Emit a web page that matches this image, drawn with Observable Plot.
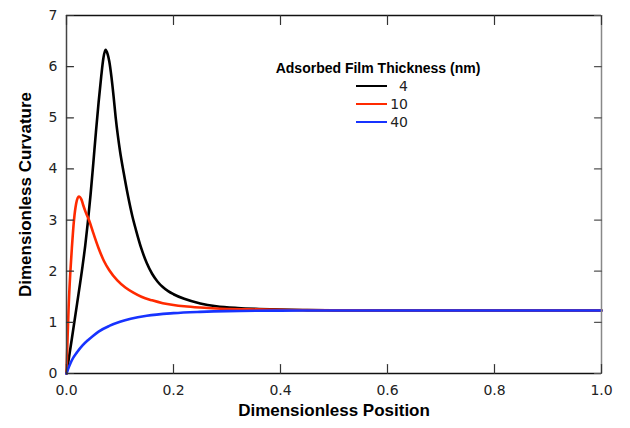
<!DOCTYPE html>
<html><head><meta charset="utf-8">
<script src="https://cdn.jsdelivr.net/npm/d3@7"></script>
<script src="https://cdn.jsdelivr.net/npm/@observablehq/plot@0.6"></script>
<style>
html,body{margin:0;padding:0;background:#fff;}
#chart{width:630px;height:428px;}
</style></head><body><div id="chart"></div>
<script>
const seriesNames = ["4", "10", "40"];
const seriesColors = ["#000000", "#ff2a00", "#1733ff"];

const x4 = [0, 0.01, 0.02, 0.03, 0.035, 0.04, 0.045, 0.05, 0.055, 0.06, 0.065, 0.069, 0.073, 0.077, 0.08, 0.084, 0.088, 0.092, 0.096, 0.1, 0.107, 0.115, 0.123, 0.13, 0.14, 0.15, 0.16, 0.17, 0.18, 0.19, 0.2, 0.22, 0.25, 0.28, 0.32, 0.36, 0.4, 0.45, 0.5, 0.6, 0.8, 1.0];
const y4 = [0, 0.68, 1.38, 2.1, 2.5, 2.97, 3.5, 4.1, 4.72, 5.3, 5.82, 6.17, 6.33, 6.24, 6.1, 5.8, 5.42, 5.0, 4.65, 4.35, 3.92, 3.47, 3.08, 2.8, 2.44, 2.16, 1.95, 1.8, 1.69, 1.61, 1.55, 1.46, 1.37, 1.315, 1.28, 1.262, 1.25, 1.24, 1.235, 1.233, 1.233, 1.233];

const x10 = [0, 0.002, 0.004, 0.007, 0.01, 0.014, 0.018, 0.023, 0.028, 0.031, 0.036, 0.042, 0.05, 0.06, 0.07, 0.08, 0.095, 0.11, 0.125, 0.14, 0.16, 0.18, 0.2, 0.22, 0.25, 0.28, 0.34, 0.4, 0.5, 0.6, 0.8, 1.0];
const y10 = [0, 0.7, 1.3, 1.95, 2.45, 3.0, 3.32, 3.46, 3.4, 3.3, 3.15, 3.0, 2.75, 2.45, 2.2, 2.02, 1.82, 1.68, 1.58, 1.5, 1.43, 1.375, 1.34, 1.315, 1.29, 1.272, 1.255, 1.245, 1.235, 1.233, 1.233, 1.233];

const x40 = [0, 0.005, 0.01, 0.02, 0.03, 0.04, 0.05, 0.06, 0.08, 0.1, 0.12, 0.15, 0.2, 0.25, 0.3, 0.4, 0.5, 0.6, 0.8, 1.0];
const y40 = [0, 0.14, 0.26, 0.42, 0.55, 0.65, 0.74, 0.82, 0.93, 1.01, 1.07, 1.13, 1.18, 1.205, 1.22, 1.23, 1.233, 1.233, 1.233, 1.233];

const xTicks = [0, 0.2, 0.4, 0.6, 0.8, 1.0];
const yTicks = [0, 1, 2, 3, 4, 5, 6, 7];
const xTitle = "Dimensionless Position";
const yTitle = "Dimensionless Curvature";
const legendTitle = "Adsorbed Film Thickness (nm)";

const seriesX = [x4, x10, x40];
const seriesY = [y4, y10, y40];
const data = [];
seriesNames.forEach((name, i) => {
  seriesX[i].forEach((xv, j) => data.push({series: name, x: xv, y: seriesY[i][j]}));
});

const titleFont = "'Liberation Sans', Arial, sans-serif";
const tickShape = {draw(context, l) { context.moveTo(0, 0); context.lineTo(0, -l); }};

const chart = Plot.plot({
  width: 630,
  height: 428,
  marginLeft: 66,
  marginRight: 29,
  marginTop: 15,
  marginBottom: 55,
  style: {fontFamily: "'DejaVu Sans', sans-serif", fontSize: "14px", color: "#222", background: "#fff"},
  x: {domain: [0, 1]},
  y: {domain: [0, 7]},
  color: {domain: seriesNames, range: seriesColors},
  marks: [
    Plot.line(data, {x: "x", y: "y", z: "series", stroke: "series", strokeWidth: 2.6, curve: "monotone-x"}),
    Plot.ruleX([0], {stroke: "#444", strokeWidth: 1.5}),
    Plot.ruleX([1], {stroke: "#888", strokeWidth: 1.5}),
    Plot.ruleY([0], {stroke: "#111", strokeWidth: 1.5}),
    Plot.ruleY([7], {stroke: "#111", strokeWidth: 1.5}),
    Plot.vector(xTicks, {x: d => d, frameAnchor: "bottom", length: 9, rotate: 0, anchor: "start", shape: tickShape, stroke: "#333", strokeWidth: 1.2}),
    Plot.vector(xTicks, {x: d => d, frameAnchor: "top", length: 9, rotate: 180, anchor: "start", shape: tickShape, stroke: "#333", strokeWidth: 1.2}),
    Plot.vector(yTicks, {y: d => d, frameAnchor: "left", length: 7, rotate: 90, anchor: "start", shape: tickShape, stroke: "#333", strokeWidth: 1.2}),
    Plot.vector(yTicks, {y: d => d, frameAnchor: "right", length: 7, rotate: -90, anchor: "start", shape: tickShape, stroke: "#555", strokeWidth: 1.2}),
    Plot.axisX(xTicks, {anchor: "bottom", tickSize: 0, tickPadding: 12, tickFormat: d3.format(".1f"), label: null}),
    Plot.axisY(yTicks, {anchor: "left", tickSize: 0, tickPadding: 9, tickFormat: d3.format("d"), label: null}),
    Plot.text([xTitle], {frameAnchor: "bottom", dy: 42, fontWeight: "bold", fontSize: 17, fontFamily: titleFont, fill: "#000"}),
    Plot.text([yTitle], {frameAnchor: "left", dx: -41, rotate: -90, textAnchor: "middle", fontWeight: "bold", fontSize: 17, fontFamily: titleFont, fill: "#000"})
  ]
});

// Legend (inside plot area), drawn in pixel layout
const svg = d3.select(chart);
const lg = svg.append("g").attr("font-family", "'DejaVu Sans', sans-serif");
lg.append("text").attr("x", 378).attr("y", 73).attr("text-anchor", "middle")
  .attr("font-family", titleFont).attr("font-weight", "bold").attr("font-size", 14)
  .attr("fill", "#000").text(legendTitle);
seriesNames.forEach((name, i) => {
  const yy = 86 + i * 18;
  lg.append("line").attr("x1", 356).attr("x2", 387).attr("y1", yy).attr("y2", yy)
    .attr("stroke", seriesColors[i]).attr("stroke-width", 2);
  lg.append("text").attr("x", 408).attr("y", yy + 5).attr("text-anchor", "end")
    .attr("font-size", 14).attr("fill", "#222").text(name);
});

document.getElementById("chart").appendChild(chart);
</script></body></html>
